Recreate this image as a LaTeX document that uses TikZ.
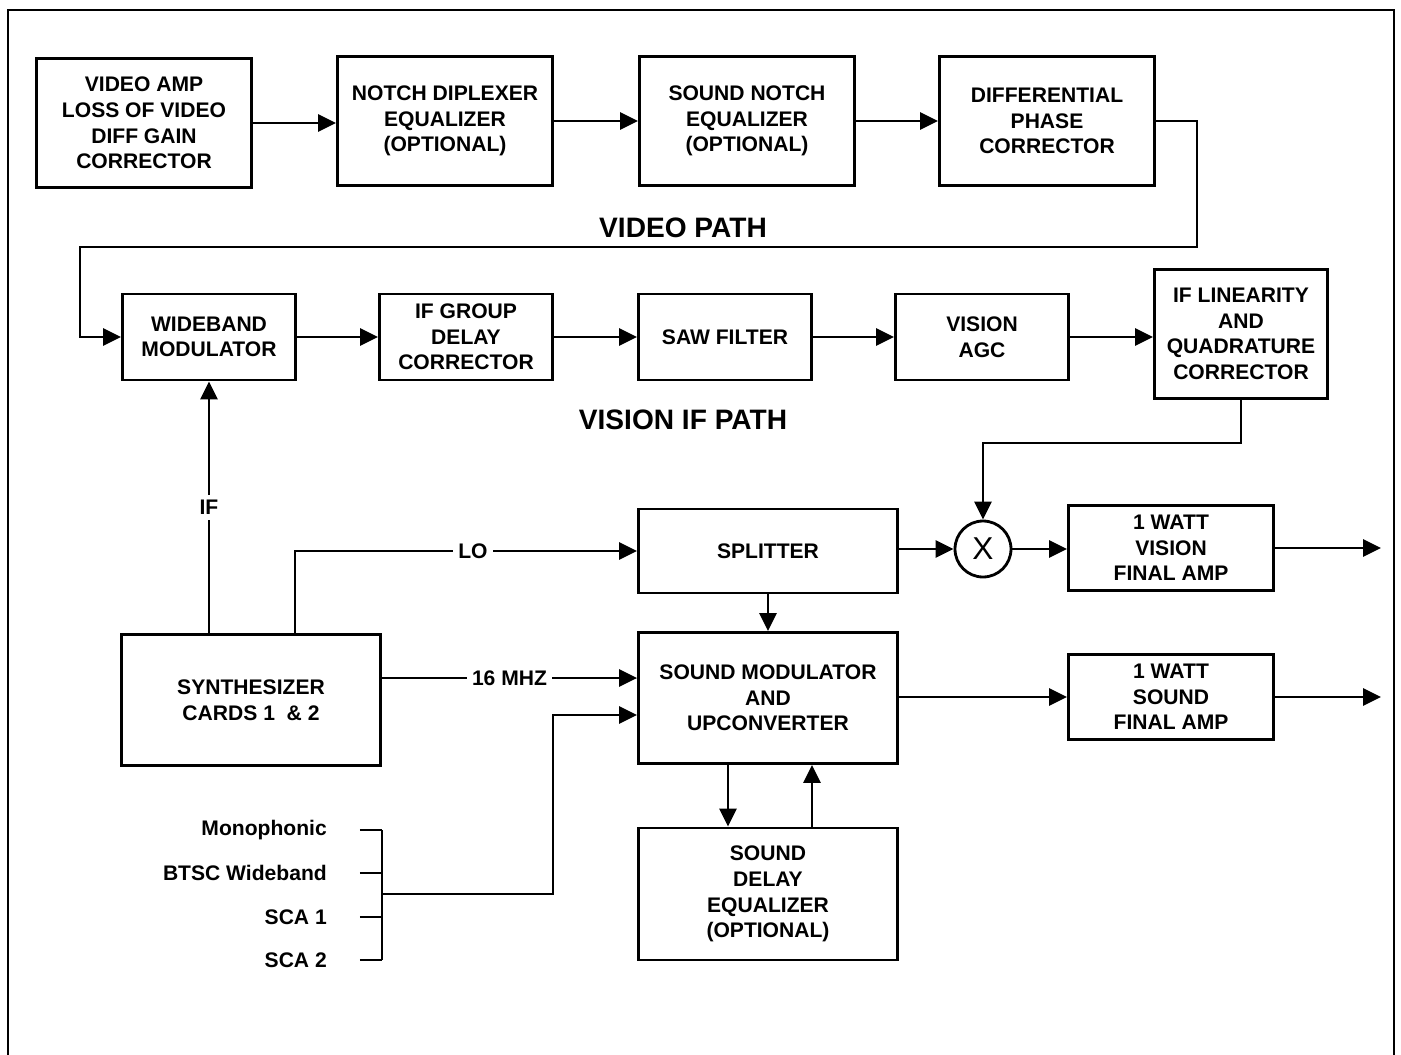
\documentclass[tikz,border=0pt]{standalone}
\usepackage{fontspec}
\setmainfont{Liberation Sans}
\usetikzlibrary{arrows.meta,positioning,calc}

\begin{document}
\begin{tikzpicture}[x=0.02cm, y=-0.02cm,
    every node/.append style={font=\fontsize{12}{14.6}\selectfont\bfseries},
    blk/.style={draw, line width=1.6pt, align=center, inner sep=2pt},
    pathbox/.style={blk, minimum width=4.3cm, minimum height=2.58cm},
    ifbox/.style={blk, minimum width=3.46cm, minimum height=1.72cm},
    sndbox/.style={blk, minimum width=5.18cm, minimum height=2.62cm},
    ampbox/.style={blk, minimum width=4.1cm, minimum height=1.7cm},
    ttl/.style={font=\fontsize{16}{19}\selectfont\bfseries},
    lbl/.style={fill=white, inner sep=3pt},
    inp/.style={anchor=east},
    ln/.style={line width=1.6pt},
    arr/.style={ln, -{Triangle[length=0.36cm,width=0.34cm]}}
  ]
  \useasboundingbox (0,0) rectangle (1401,1055);
  % Frame (open at the bottom)
  \draw[line width=1.3pt] (8,1070) -- (8,10) -- (1394,10) -- (1394,1070);

  % Video path
  \node[pathbox] (vamp) at (144,123) {VIDEO AMP\\LOSS OF VIDEO\\DIFF GAIN\\CORRECTOR};
  \node[pathbox] (notch) at (445,121) {NOTCH DIPLEXER\\EQUALIZER\\(OPTIONAL)};
  \node[pathbox] (snotch) at (747,121) {SOUND NOTCH\\EQUALIZER\\(OPTIONAL)};
  \node[pathbox] (diffph) at (1047,121) {DIFFERENTIAL\\PHASE\\CORRECTOR};
  \draw[arr] (vamp.east) -- (vamp.east -| notch.west);
  \draw[arr] (notch) -- (snotch);
  \draw[arr] (snotch) -- (diffph);
  \node[ttl] (vpath) at (683,228) {VIDEO PATH};

  % Vision IF path
  \node[ifbox] (wbmod) at (209,337) {WIDEBAND\\MODULATOR};
  \node[ifbox] (ifgd) at (466,337) {IF GROUP\\DELAY\\CORRECTOR};
  \node[ifbox] (saw) at (725,337) {SAW FILTER};
  \node[ifbox] (vagc) at (982,337) {VISION\\AGC};
  \node[ifbox, minimum height=2.58cm] (iflin) at (1241,334) {IF LINEARITY\\AND\\QUADRATURE\\CORRECTOR};
  \coordinate (vr) at (1197,247);
  \coordinate (vl) at (80,247);
  \draw[arr] (diffph.east) -| (vr) -- (vl) |- (wbmod.west);
  \draw[arr] (wbmod) -- (ifgd);
  \draw[arr] (ifgd) -- (saw);
  \draw[arr] (saw) -- (vagc);
  \draw[arr] (vagc.east) -- (vagc.east -| iflin.west);
  \node[ttl] (vifpath) at (683,420) {VISION IF PATH};

  % Mixer and vision output
  \node[sndbox, minimum height=1.68cm] (splitter) at (768,551) {SPLITTER};
  \node[draw, circle, line width=1.6pt, minimum size=1.12cm, inner sep=0pt,
        font=\fontsize{18}{18}\selectfont] (mixer) at (983,549) {X};
  \node[ampbox] (vfa) at (1171,548) {1 WATT\\VISION\\FINAL AMP};
  \coordinate (ifj) at (1241,443);
  \coordinate (vout) at (1381,548);
  \draw[arr] (iflin.south) -- (ifj) -| (mixer.north);
  \draw[arr] (splitter.east |- mixer) -- (mixer);
  \draw[arr] (mixer) -- (vfa.west |- mixer);
  \draw[arr] (vfa.east) -- (vout);

  % Synthesizer
  \node[sndbox] (synth) at (251,700) {SYNTHESIZER\\CARDS 1\ \ \& 2};
  \draw[arr] (synth.north -| wbmod) -- (wbmod.south) node[lbl, pos=0.5] {IF};
  \draw[arr] ([xshift=0.88cm]synth.north) |- (splitter.west) node[lbl, pos=0.76] {LO};

  % Sound path
  \node[sndbox] (sndmod) at (768,698) {SOUND MODULATOR\\AND\\UPCONVERTER};
  \node[ampbox] (sfa) at (1171,697) {1 WATT\\SOUND\\FINAL AMP};
  \node[sndbox, minimum height=2.64cm] (sdelay) at (768,894) {SOUND\\DELAY\\EQUALIZER\\(OPTIONAL)};
  \coordinate (sout) at (1381,697);
  \draw[arr] ([yshift=0.44cm]synth.east) -- ([yshift=0.44cm]synth.east -| sndmod.west) node[lbl, pos=0.5] {16 MHZ};
  \draw[arr] (splitter) -- (sndmod);
  \draw[arr] (sndmod.east |- sfa) -- (sfa.west);
  \draw[arr] (sfa.east) -- (sout);
  \draw[arr] ([xshift=-0.8cm]sndmod.south) -- ([xshift=-0.8cm]sdelay.north);
  \draw[arr] ([xshift=0.88cm]sdelay.north) -- ([xshift=0.88cm]sndmod.south);

  % Audio inputs
  \coordinate (bus) at (382,894);
  \coordinate (jog) at (553,894);
  \node[inp] (mono) at (333,830) {Monophonic};
  \node[inp] (btsc) at (333,873) {BTSC Wideband};
  \node[inp] (sca1) at (333,917) {SCA 1};
  \node[inp] (sca2) at (333,960) {SCA 2};
  \draw[ln] ([xshift=0.54cm]mono.east) -- (mono.east -| bus);
  \draw[ln] ([xshift=0.54cm]btsc.east) -- (btsc.east -| bus);
  \draw[ln] ([xshift=0.54cm]sca1.east) -- (sca1.east -| bus);
  \draw[ln] ([xshift=0.54cm]sca2.east) -- (sca2.east -| bus);
  \draw[ln] (bus |- mono.east) -- (bus |- sca2.east);
  \draw[arr] (bus) -- (jog) |- ([yshift=-0.34cm]sndmod.west);
\end{tikzpicture}
\end{document}
